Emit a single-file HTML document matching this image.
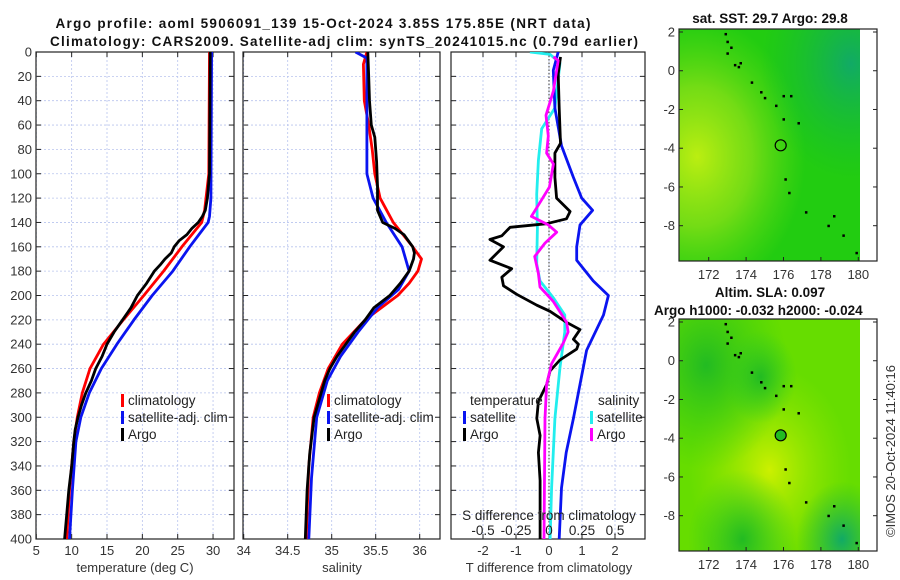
<!DOCTYPE html>
<html><head><meta charset="utf-8">
<style>
html,body{margin:0;padding:0;background:#fff;}
svg{display:block;font-family:"Liberation Sans","DejaVu Sans",sans-serif;}
.tk{font-size:13px;fill:#333;}
.lg{font-size:13.5px;fill:#222;}
.ti{font-size:13.5px;font-weight:bold;fill:#111;}
</style></head>
<body>
<svg id="chart" width="900" height="580" viewBox="0 0 900 580" xmlns="http://www.w3.org/2000/svg">
<defs>
<clipPath id="c1"><rect x="36" y="52" width="198" height="487"/></clipPath>
<clipPath id="c2"><rect x="243" y="52" width="197" height="487"/></clipPath>
<clipPath id="c3"><rect x="451" y="52" width="194" height="487"/></clipPath>
<clipPath id="cm1"><rect x="679" y="29" width="181" height="232"/></clipPath>
<clipPath id="cm2"><rect x="679" y="319" width="181" height="232"/></clipPath>
<radialGradient id="g1a" cx="0.1" cy="0.55" r="0.6"><stop offset="0" stop-color="#bbee11"/><stop offset="0.5" stop-color="#88e016" stop-opacity="0.8"/><stop offset="1" stop-color="#66dd11" stop-opacity="0"/></radialGradient>
<radialGradient id="g1b" cx="0.95" cy="0.15" r="0.5"><stop offset="0" stop-color="#11aa66"/><stop offset="1" stop-color="#11bb33" stop-opacity="0"/></radialGradient>
<radialGradient id="g2a" cx="0.5" cy="0.65" r="0.45"><stop offset="0" stop-color="#ccf000"/><stop offset="1" stop-color="#99e600" stop-opacity="0"/></radialGradient>
<radialGradient id="g2b" cx="0.15" cy="0.2" r="0.45"><stop offset="0" stop-color="#22bb22"/><stop offset="1" stop-color="#33cc11" stop-opacity="0"/></radialGradient>
<radialGradient id="g2c" cx="0.9" cy="0.95" r="0.25"><stop offset="0" stop-color="#11aa66"/><stop offset="1" stop-color="#22bb33" stop-opacity="0"/></radialGradient>
<radialGradient id="g2d" cx="0.45" cy="0.25" r="0.2"><stop offset="0" stop-color="#22bb22"/><stop offset="1" stop-color="#33cc22" stop-opacity="0"/></radialGradient>
<radialGradient id="g2e" cx="0.35" cy="0.95" r="0.3"><stop offset="0" stop-color="#22bb22"/><stop offset="1" stop-color="#33cc22" stop-opacity="0"/></radialGradient>
</defs>
<rect width="900" height="580" fill="#fff"/>
<text class="ti" x="323" y="28" text-anchor="middle" textLength="535">Argo profile: aoml 5906091_139 15-Oct-2024 3.85S 175.85E (NRT data)</text>
<text class="ti" x="344" y="46" text-anchor="middle" textLength="588">Climatology: CARS2009. Satellite-adj clim: synTS_20241015.nc (0.79d earlier)</text>
<g id="p1"></g>
<g id="p2"></g>
<g id="p3"></g>
<g id="m1"></g>
<g id="m2"></g>
<text class="ti" x="770" y="23" text-anchor="middle">sat. SST: 29.7 Argo: 29.8</text>
<text class="ti" x="770" y="297" text-anchor="middle">Altim. SLA: 0.097</text>
<text class="ti" x="654" y="315">Argo h1000: -0.032 h2000: -0.024</text>
<text class="tk" x="0" y="0" transform="translate(895,451) rotate(-90)" text-anchor="middle">©IMOS 20-Oct-2024 11:40:16</text>
</svg>
<script>
// ---------- data ----------
const depthTicks=[0,20,40,60,80,100,120,140,160,180,200,220,240,260,280,300,320,340,360,380,400];
const tempTicks=[5,10,15,20,25,30];
const salTicks=[34,34.5,35,35.5,36];
const tdiffTicks=[-2,-1,0,1,2];
const sdiffTicks=[-0.5,-0.25,0,0.25,0.5];
const lonTicks=[172,174,176,178,180];
const latTicks=[2,0,-2,-4,-6,-8];

const climTDepth=[0,100,120,130,140,150,160,180,200,220,240,260,280,300,320,360,400];
const climTVal=[29.5,29.4,29.0,28.8,28.4,27.0,25.6,23.0,20.2,17.3,14.5,12.6,11.5,10.8,10.3,9.7,9.3];
const satTDepth=[0,120,135,140,150,160,180,200,220,240,260,280,300,320,360,400];
const satTVal=[29.8,29.7,29.5,29.3,28.0,26.7,24.3,21.4,18.8,16.4,14.2,12.5,11.3,10.6,10.1,9.7];
const argoTDepth=[0,100,120,130,135,140,145,150,155,160,165,170,175,180,190,200,210,215,225,230,240,250,260,270,280,290,300,310,320,340,360,380,400];
const argoTVal=[29.6,29.5,29.2,28.9,28.5,27.9,27.0,26.3,25.2,24.5,24.1,23.2,22.5,21.7,20.6,19.3,18.4,17.8,16.6,16.0,15.0,14.3,13.4,12.8,12.0,11.4,10.9,10.5,10.3,10.0,9.6,9.3,9.0];

const climSDepth=[0,10,40,60,80,100,120,140,160,170,180,190,200,220,240,260,280,300,340,400];
const climSVal=[35.40,35.36,35.37,35.42,35.46,35.49,35.55,35.70,35.92,36.02,35.98,35.88,35.75,35.38,35.12,34.96,34.86,34.79,34.74,34.71];
const satSDepth=[0,5,20,100,120,140,160,180,195,210,230,250,270,300,350,400];
const satSVal=[35.27,35.40,35.40,35.40,35.47,35.62,35.80,35.88,35.76,35.52,35.30,35.10,34.95,34.83,34.77,34.74];
const argoSDepth=[0,20,40,60,70,80,90,110,130,140,145,150,160,165,170,180,190,200,210,220,230,240,250,260,270,285,300,330,360,400];
const argoSVal=[35.41,35.42,35.43,35.45,35.49,35.50,35.51,35.52,35.52,35.58,35.72,35.82,35.92,35.94,35.93,35.88,35.78,35.66,35.48,35.38,35.26,35.16,35.06,34.98,34.92,34.86,34.80,34.75,34.72,34.70];

const satTdDepth=[0,15,46,77,103,120,130,142,160,171,188,200,216,245,273,301,329,358,400];
const satTdVal=[0.28,0.13,0.18,0.38,0.74,0.99,1.32,0.94,0.84,0.84,1.34,1.80,1.65,1.14,0.94,0.74,0.52,0.38,0.31];
const argoTdDepth=[4,18,46,75,83,103,120,131,137,141,144,151,154,160,171,178,185,192,199,208,213,222,228,236,240,244,253,262,273,287,301,315,329,352,372,400];
const argoTdVal=[0.35,0.28,0.31,0.35,0.18,0.18,0.23,0.64,0.53,-0.07,-1.18,-1.43,-1.79,-1.38,-1.79,-1.13,-1.43,-1.38,-0.98,-0.37,0.03,0.53,0.94,0.74,0.89,0.84,0.33,0.03,-0.07,-0.32,-0.37,-0.27,-0.32,-0.27,-0.27,-0.27];
const satSdDepth=[0,2,9,46,63,89,117,145,174,188,202,216,230,259,301,358,400];
const satSdVal=[-0.145,0.008,0.083,0.045,-0.055,-0.08,-0.093,-0.088,-0.093,-0.068,0.033,0.12,0.12,0.083,0.045,0.02,0.008];
const argoSdDepth=[4,7,32,52,69,83,92,111,128,135,142,148,157,168,182,193,205,222,230,239,256,273,301,400];
const argoSdVal=[0.033,0.07,0.033,-0.023,-0.005,-0.018,0.033,0.003,-0.093,-0.133,-0.005,0.058,-0.03,-0.108,-0.08,-0.068,0.033,0.133,0.145,0.108,0.02,-0.018,-0.03,-0.038];

const argoLon=175.85, argoLat=-3.85;

// ---------- helpers ----------
const NS='http://www.w3.org/2000/svg';
function mk(parent,tag,attrs){const e=document.createElementNS(NS,tag);for(const k in attrs)e.setAttribute(k,attrs[k]);parent.appendChild(e);return e;}
const yD=d=>52+d*(487/400);
function line(g,xs,ds,xf,color,name,clip){
  const p=mk(g,'polyline',{points:xs.map((v,i)=>xf(v).toFixed(1)+','+yD(ds[i]).toFixed(1)).join(' '),fill:'none',stroke:color,'stroke-width':2.8,'stroke-linejoin':'round','clip-path':'url(#'+clip+')'});
  
  
}
function frame(g,x0,x1,xt,xf,labels,name,leftLabels){
  for(const d of depthTicks){const y=yD(d);
    mk(g,'line',{x1:x0,x2:x1,y1:y,y2:y,stroke:'#b8c4ee','stroke-width':0.8,'stroke-dasharray':'2,2'});
    mk(g,'line',{x1:x0,x2:x0+5,y1:y,y2:y,stroke:'#222'});mk(g,'line',{x1:x1-5,x2:x1,y1:y,y2:y,stroke:'#222'});
    if(leftLabels){const t=mk(g,'text',{x:x0-4,y:y+4.5,'text-anchor':'end',class:'tk'});t.textContent=d;
      
      }
  }
  xt.forEach((v,i)=>{const x=xf(v);
    mk(g,'line',{x1:x,x2:x,y1:52,y2:539,stroke:'#b8c4ee','stroke-width':0.8,'stroke-dasharray':'2,2'});
    mk(g,'line',{x1:x,x2:x,y1:539,y2:534,stroke:'#222'});mk(g,'line',{x1:x,x2:x,y1:52,y2:57,stroke:'#222'});
    const t=mk(g,'text',{x:x,y:555,'text-anchor':'middle',class:'tk'});t.textContent=labels[i];
    
    
  });
  const r=mk(g,'rect',{x:x0,y:52,width:x1-x0,height:487,fill:'none',stroke:'#222','stroke-width':1.2});
  
  
}
function legendEntry(g,x,y,color,label){
  mk(g,'rect',{x:x,y:y-11,width:3,height:13,fill:color});
  const t=mk(g,'text',{x:x+7,y:y,class:'lg'});t.textContent=label;
  
  
}

// ---------- panel 1 ----------
const g1=document.getElementById('p1');
const xT=v=>36.3+(v-5)*7.07;
frame(g1,36,234,tempTicks,xT,tempTicks,'temperature-panel',true);
line(g1,climTVal,climTDepth,xT,'#f00','climatology-temp-line','c1');
line(g1,satTVal,satTDepth,xT,'#0a14f0','satellite-temp-line','c1');
line(g1,argoTVal,argoTDepth,xT,'#000','argo-temp-line','c1');
legendEntry(g1,121,405,'#f00','climatology');
legendEntry(g1,121,422,'#0a14f0','satellite-adj. clim');
legendEntry(g1,121,439,'#000','Argo');
{const t=mk(g1,'text',{x:135,y:572,'text-anchor':'middle',class:'tk','font-size':'13.5'});t.textContent='temperature (deg C)';

}

// ---------- panel 2 ----------
const g2=document.getElementById('p2');
const xS=v=>243.7+(v-34)*88;
frame(g2,243,440,salTicks,xS,salTicks,'salinity-panel',false);
line(g2,climSVal,climSDepth,xS,'#f00','climatology-salinity-line','c2');
line(g2,satSVal,satSDepth,xS,'#0a14f0','satellite-salinity-line','c2');
line(g2,argoSVal,argoSDepth,xS,'#000','argo-salinity-line','c2');
legendEntry(g2,327,405,'#f00','climatology');
legendEntry(g2,327,422,'#0a14f0','satellite-adj. clim');
legendEntry(g2,327,439,'#000','Argo');
{const t=mk(g2,'text',{x:342,y:572,'text-anchor':'middle',class:'tk','font-size':'13.5'});t.textContent='salinity';

}

// ---------- panel 3 ----------
const g3=document.getElementById('p3');
const xTd=v=>549+v*33;
const xSd=v=>549+v*132;
frame(g3,451,645,tdiffTicks,xTd,tdiffTicks,'difference-panel',false);
mk(g3,'line',{x1:549,x2:549,y1:52,y2:539,stroke:'#333','stroke-width':1,'stroke-dasharray':'1.5,2'});
line(g3,satSdVal,satSdDepth,xSd,'#22eeee','satellite-salinity-diff-line','c3');
line(g3,satTdVal,satTdDepth,xTd,'#0a14f0','satellite-temp-diff-line','c3');
line(g3,argoTdVal,argoTdDepth,xTd,'#000','argo-temp-diff-line','c3');
line(g3,argoSdVal,argoSdDepth,xSd,'#f0f','argo-salinity-diff-line','c3');
{const t=mk(g3,'text',{x:470,y:405,class:'lg'});t.textContent='temperature';


const s=mk(g3,'text',{x:598,y:405,class:'lg'});s.textContent='salinity';

}
legendEntry(g3,463,422,'#0a14f0','satellite');
legendEntry(g3,463,439,'#000','Argo');
legendEntry(g3,590,422,'#22eeee','satellite');
legendEntry(g3,590,439,'#f0f','Argo');
{const t=mk(g3,'text',{x:549,y:520,'text-anchor':'middle',class:'lg'});t.textContent='S difference from climatology';

}
sdiffTicks.forEach(v=>{const t=mk(g3,'text',{x:xSd(v),y:535,'text-anchor':'middle',class:'lg'});t.textContent=v;
  
  });
{const t=mk(g3,'text',{x:549,y:572,'text-anchor':'middle',class:'tk','font-size':'13.5'});t.textContent='T difference from climatology';

}

// ---------- maps ----------
const xLon=v=>708.7+(v-172)*18.7;
const islands=[[172.9,1.9],[173.0,1.5],[173.2,1.2],[173.0,0.9],[173.4,0.3],[173.7,0.4],[173.6,0.2],[174.3,-0.6],[174.8,-1.1],[175.0,-1.4],[175.6,-1.8],[176.0,-1.3],[176.4,-1.3],[176.0,-2.5],[176.8,-2.7],[176.1,-5.6],[176.3,-6.3],[177.2,-7.3],[178.7,-7.5],[178.4,-8.0],[179.2,-8.5],[179.9,-9.4]];
function map(id,top,clip,grads,fillCircle,name){
  const g=document.getElementById(id);
  const yLat=v=>top+3+(2-v)*19.37;
  mk(g,'rect',{x:679,y:top,width:181,height:232,fill:grads[0],'clip-path':'url(#'+clip+')'});
  grads.slice(1).forEach(gr=>mk(g,'rect',{x:679,y:top,width:181,height:232,fill:'url(#'+gr+')'}));
  islands.forEach(p=>{const d=mk(g,'rect',{x:xLon(p[0])-1,y:yLat(p[1])-1,width:2.5,height:2.5,fill:'#000'});
    
    });
  const c=mk(g,'circle',{cx:xLon(argoLon),cy:yLat(argoLat),r:5.5,fill:fillCircle,stroke:'#000','stroke-width':1.2});
  
  
  mk(g,'rect',{x:679,y:top,width:198,height:232,fill:'none',stroke:'#222','stroke-width':1.2});
  lonTicks.forEach(v=>{const x=xLon(v);mk(g,'line',{x1:x,x2:x,y1:top+232,y2:top+228,stroke:'#222'});
    const t=mk(g,'text',{x:x,y:top+250,'text-anchor':'middle',class:'tk'});t.textContent=v;
    
    });
  latTicks.forEach(v=>{const y=yLat(v);mk(g,'line',{x1:679,x2:683,y1:y,y2:y,stroke:'#222'});mk(g,'line',{x1:873,x2:877,y1:y,y2:y,stroke:'#222'});
    const t=mk(g,'text',{x:675,y:y+4.5,'text-anchor':'end',class:'tk'});t.textContent=v;
    
    });
}
map('m1',29,'cm1',['#22cc11','g1a','g1b'],'none','sst-map');
map('m2',319,'cm2',['#66dd00','g2a','g2b','g2c','g2d','g2e'],'#22bb22','sla-map');
</script>
</body></html>
